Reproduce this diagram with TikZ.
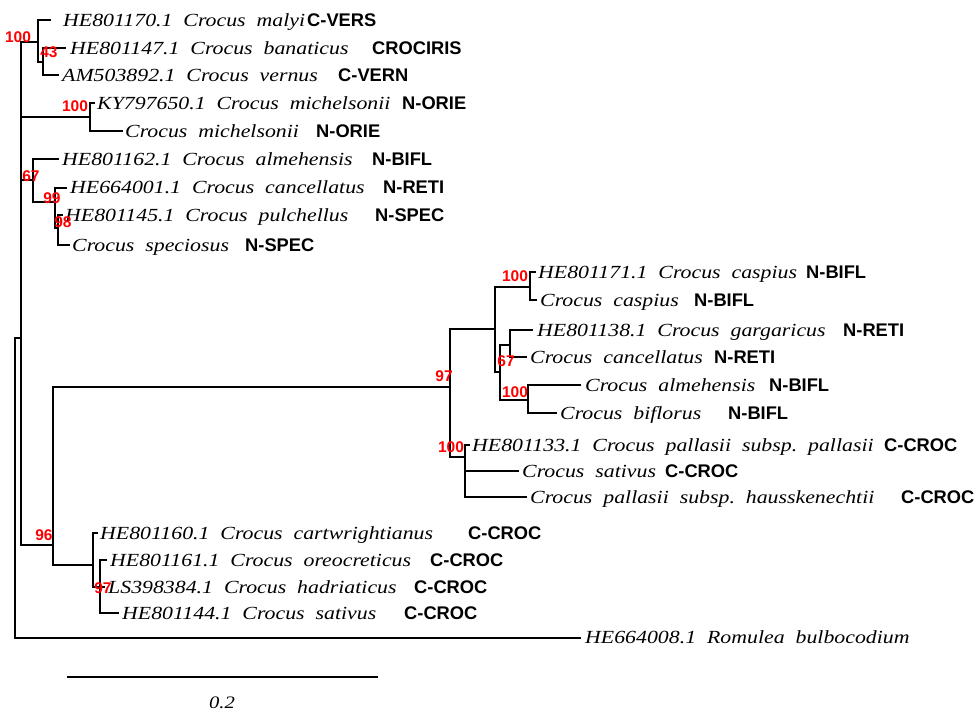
\documentclass[tikz,border=0pt]{standalone}
\usepackage{fontspec}
\setmainfont{Liberation Serif}
\newfontfamily\taxfont[FakeStretch=1.18]{Liberation Serif}
\newfontfamily\codefont{Liberation Sans}
\begin{document}
\begin{tikzpicture}[x=1pt,y=-1pt]
\tikzset{
  br/.style={line width=2.2pt, line join=miter, line cap=rect},
  tax/.style={anchor=west, inner sep=0pt, text height=12pt, text depth=0pt,
              font=\taxfont\itshape\fontsize{18.5}{20}\selectfont},
  grp/.style={anchor=west, inner sep=0pt, text height=12.5pt, text depth=0pt,
              font=\codefont\bfseries\fontsize{18.3}{19}\selectfont},
  bs/.style={inner sep=0pt, text=red, font=\codefont\bfseries\fontsize{15.5}{16}\selectfont},
}
\fill[white] (0,0) rectangle (977,713);
\useasboundingbox (0,0) rectangle (977,713);

% internal nodes
\coordinate (R) at (15,338);
\coordinate (A) at (21,338);
\coordinate (N100a) at (38,42);
\coordinate (N43) at (43,62);
\coordinate (N100m) at (90,117);
\coordinate (N67) at (33,180);
\coordinate (N99) at (55,202);
\coordinate (N98) at (58,228);
\coordinate (N96) at (53,545);
\coordinate (N97) at (450,387);
\coordinate (NA) at (495,329);
\coordinate (N100c) at (530,287);
\coordinate (NB) at (500,372);
\coordinate (N67r) at (510,345);
\coordinate (N100al) at (528,400);
\coordinate (N100p) at (465,457);
\coordinate (N93) at (93,565);
\coordinate (N97c) at (100,587);

% tips
\coordinate (t1) at (50,20);
\coordinate (t2) at (65,48);
\coordinate (t3) at (58,75);
\coordinate (t4) at (94,103);
\coordinate (t5) at (122,131);
\coordinate (t6) at (58,159);
\coordinate (t7) at (66,188);
\coordinate (t8) at (62,215);
\coordinate (t9) at (69,245);
\coordinate (t10) at (535,272);
\coordinate (t11) at (536,300);
\coordinate (t12) at (532,330);
\coordinate (t13) at (526,357);
\coordinate (t14) at (580,385);
\coordinate (t15) at (556,413);
\coordinate (t16) at (469,445);
\coordinate (t17) at (518,471);
\coordinate (t18) at (526,497);
\coordinate (t19) at (97,533);
\coordinate (t20) at (106,560);
\coordinate (t21) at (104,587);
\coordinate (t22) at (118,613);
\coordinate (t23) at (580,638);

% branches
\draw[br] (R) |- (A);
\draw[br] (R) |- (t23);
\draw[br] (A) |- (N100a);
\draw[br] (A) |- (N100m);
\draw[br] (A) |- (N67);
\draw[br] (A) |- (N96);
\draw[br] (N100a) |- (t1);
\draw[br] (N100a) |- (N43);
\draw[br] (N43) |- (t2);
\draw[br] (N43) |- (t3);
\draw[br] (N100m) |- (t4);
\draw[br] (N100m) |- (t5);
\draw[br] (N67) |- (t6);
\draw[br] (N67) |- (N99);
\draw[br] (N99) |- (t7);
\draw[br] (N99) |- (N98);
\draw[br] (N98) |- (t8);
\draw[br] (N98) |- (t9);
\draw[br] (N96) |- (N97);
\draw[br] (N96) |- (N93);
\draw[br] (N97) |- (NA);
\draw[br] (N97) |- (N100p);
\draw[br] (NA) |- (N100c);
\draw[br] (NA) |- (NB);
\draw[br] (N100c) |- (t10);
\draw[br] (N100c) |- (t11);
\draw[br] (NB) |- (N67r);
\draw[br] (NB) |- (N100al);
\draw[br] (N67r) |- (t12);
\draw[br] (N67r) |- (t13);
\draw[br] (N100al) |- (t14);
\draw[br] (N100al) |- (t15);
\draw[br] (N100p) |- (t16);
\draw[br] (N100p) |- (t17);
\draw[br] (N100p) |- (t18);
\draw[br] (N93) |- (t19);
\draw[br] (N93) |- (N97c);
\draw[br] (N97c) |- (t20);
\draw[br] (N97c) |- (t21);
\draw[br] (N97c) |- (t22);

% taxon names
\node[tax] (l1) at (63,20) {HE801170.1\ \ Crocus\ \ malyi};
\node[tax] (l2) at (70,48) {HE801147.1\ \ Crocus\ \ banaticus};
\node[tax] (l3) at (62,75) {AM503892.1\ \ Crocus\ \ vernus};
\node[tax] (l4) at (97,103) {KY797650.1\ \ Crocus\ \ michelsonii};
\node[tax] (l5) at (125,131) {Crocus\ \ michelsonii};
\node[tax] (l6) at (62,159) {HE801162.1\ \ Crocus\ \ almehensis};
\node[tax] (l7) at (70,187) {HE664001.1\ \ Crocus\ \ cancellatus};
\node[tax] (l8) at (65,215) {HE801145.1\ \ Crocus\ \ pulchellus};
\node[tax] (l9) at (72,245) {Crocus\ \ speciosus};
\node[tax] (l10) at (538,272) {HE801171.1\ \ Crocus\ \ caspius};
\node[tax] (l11) at (540,300) {Crocus\ \ caspius};
\node[tax] (l12) at (537,330) {HE801138.1\ \ Crocus\ \ gargaricus};
\node[tax] (l13) at (530,357) {Crocus\ \ cancellatus};
\node[tax] (l14) at (585,385) {Crocus\ \ almehensis};
\node[tax] (l15) at (560,413) {Crocus\ \ biflorus};
\node[tax] (l16) at (472,445) {HE801133.1\ \ Crocus\ \ pallasii\ \ subsp.\ \ pallasii};
\node[tax] (l17) at (522,471) {Crocus\ \ sativus};
\node[tax] (l18) at (530,497) {Crocus\ \ pallasii\ \ subsp.\ \ hausskenechtii};
\node[tax] (l19) at (100,533) {HE801160.1\ \ Crocus\ \ cartwrightianus};
\node[tax] (l20) at (110,560) {HE801161.1\ \ Crocus\ \ oreocreticus};
\node[tax] (l21) at (108,587) {LS398384.1\ \ Crocus\ \ hadriaticus};
\node[tax] (l22) at (122,613) {HE801144.1\ \ Crocus\ \ sativus};
\node[tax] (l23) at (585,637) {HE664008.1\ \ Romulea\ \ bulbocodium};

% group codes
\node[grp] (g1) at (307,20) {C-VERS};
\node[grp] (g2) at (372,48) {CROCIRIS};
\node[grp] (g3) at (338,75) {C-VERN};
\node[grp] (g4) at (402,103) {N-ORIE};
\node[grp] (g5) at (316,131) {N-ORIE};
\node[grp] (g6) at (372,159) {N-BIFL};
\node[grp] (g7) at (383,187) {N-RETI};
\node[grp] (g8) at (375,215) {N-SPEC};
\node[grp] (g9) at (245,245) {N-SPEC};
\node[grp] (g10) at (806,272) {N-BIFL};
\node[grp] (g11) at (694,300) {N-BIFL};
\node[grp] (g12) at (843,330) {N-RETI};
\node[grp] (g13) at (714,357) {N-RETI};
\node[grp] (g14) at (769,385) {N-BIFL};
\node[grp] (g15) at (728,413) {N-BIFL};
\node[grp] (g16) at (884,445) {C-CROC};
\node[grp] (g17) at (665,471) {C-CROC};
\node[grp] (g18) at (901,497) {C-CROC};
\node[grp] (g19) at (468,533) {C-CROC};
\node[grp] (g20) at (430,560) {C-CROC};
\node[grp] (g21) at (414,587) {C-CROC};
\node[grp] (g22) at (404,613) {C-CROC};

% bootstrap values
\node[bs] (b1) at (18,37) {100};
\node[bs] (b2) at (49,52) {43};
\node[bs] (b3) at (75,106) {100};
\node[bs] (b4) at (31,176) {67};
\node[bs] (b5) at (52,198) {99};
\node[bs] (b6) at (63,222) {98};
\node[bs] (b7) at (515,276) {100};
\node[bs] (b8) at (444,376) {97};
\node[bs] (b9) at (506,361) {67};
\node[bs] (b10) at (515,392) {100};
\node[bs] (b11) at (451,447) {100};
\node[bs] (b12) at (44,535) {96};
\node[bs] (b13) at (103,588) {97};

% scale bar
\coordinate (s1) at (67,677);
\coordinate (s2) at (378,677);
\draw[line width=2.2pt] (s1) -- (s2);
\node[inner sep=0pt, font=\taxfont\itshape\fontsize{17.5}{18}\selectfont] (sl) at (222,703) {0.2};
\end{tikzpicture}
\end{document}
